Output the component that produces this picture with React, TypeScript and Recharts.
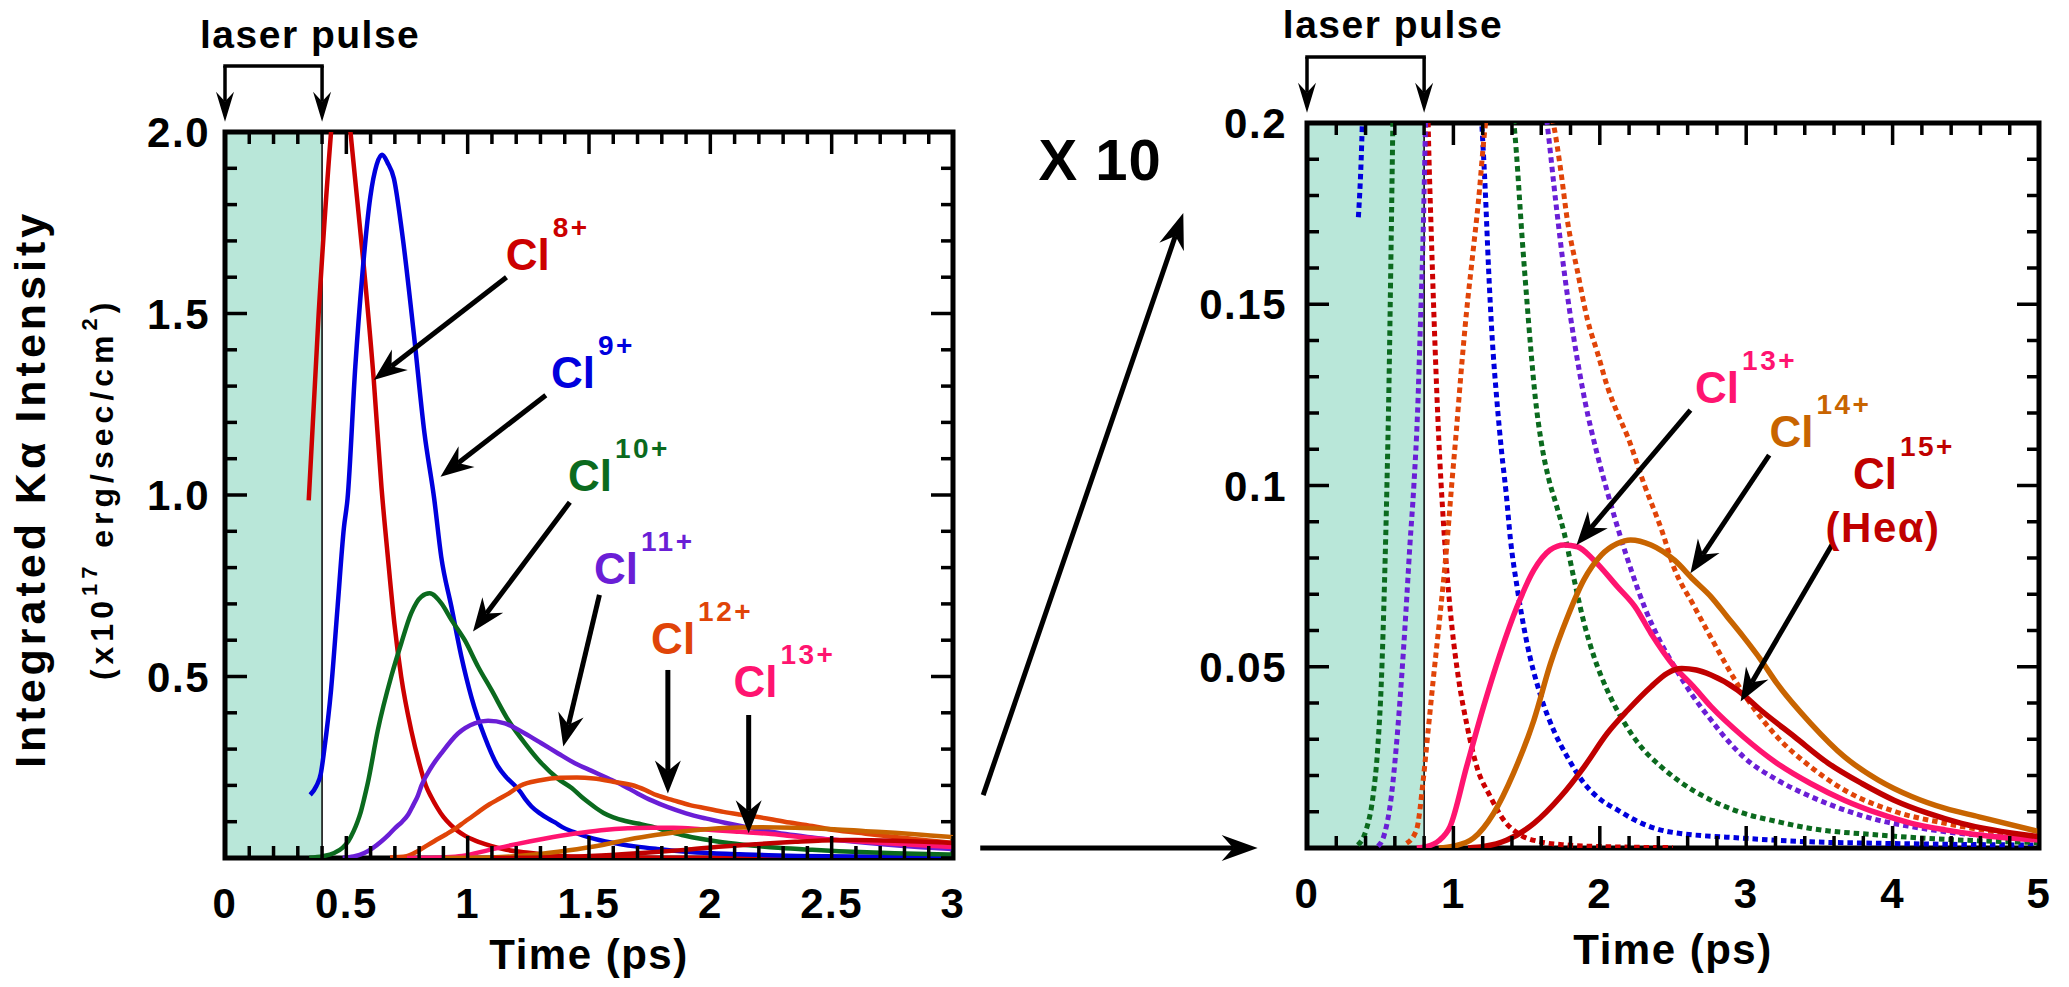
import React from "react";
import { Line, LineChart, ReferenceArea, ReferenceDot, ReferenceLine, XAxis, YAxis } from "recharts";

type Pt = [number, number];

// [time (ps), integrated K-alpha intensity (x1e17 erg/sec/cm^2)]
const cl8: Pt[] = [
  [0.345, 0.985], [0.386, 1.5], [0.437, 2.0], [0.477, 2.3], [0.517, 2.0], [0.572, 1.63], [0.613, 1.317],
  [0.645, 1.02], [0.671, 0.83], [0.698, 0.646], [0.726, 0.5], [0.767, 0.353], [0.8, 0.262], [0.828, 0.199],
  [0.85, 0.168], [0.875, 0.138], [0.9, 0.113], [0.93, 0.091], [0.96, 0.074], [0.99, 0.061], [1.034, 0.047],
  [1.092, 0.034], [1.16, 0.0224], [1.252, 0.0142], [1.344, 0.0077], [1.458, 0.0036], [1.596, 0.0017],
  [1.78, 0.0008], [2.0, 0.0004], [2.5, 0.0001],
];
const cl9: Pt[] = [
  [0.351, 0.174], [0.377, 0.199], [0.395, 0.233], [0.409, 0.298], [0.437, 0.463], [0.464, 0.692], [0.49, 0.91],
  [0.505, 0.99], [0.537, 1.354], [0.565, 1.6], [0.599, 1.822], [0.625, 1.91], [0.647, 1.937], [0.67, 1.915],
  [0.696, 1.872], [0.73, 1.721], [0.778, 1.445], [0.822, 1.17], [0.862, 0.99], [0.891, 0.83], [0.933, 0.692],
  [0.974, 0.555], [1.015, 0.444], [1.07, 0.334], [1.125, 0.252], [1.16, 0.222], [1.195, 0.199], [1.217, 0.182],
  [1.24, 0.16], [1.263, 0.142], [1.298, 0.123], [1.33, 0.109], [1.36, 0.098], [1.39, 0.085], [1.435, 0.072],
  [1.5, 0.057], [1.596, 0.042], [1.69, 0.032], [1.78, 0.025], [1.89, 0.018], [2.01, 0.0132], [2.12, 0.0105],
  [2.24, 0.0077], [2.47, 0.0045], [2.98, 0.0027], [3.44, 0.0017], [3.9, 0.0013], [5.0, 0.0008],
];
const cl10: Pt[] = [
  [0.347, 0.0008], [0.404, 0.005], [0.45, 0.014], [0.484, 0.028], [0.508, 0.046], [0.53, 0.074], [0.546, 0.1],
  [0.56, 0.128], [0.574, 0.165], [0.588, 0.205], [0.63, 0.353], [0.685, 0.5], [0.726, 0.591], [0.767, 0.674],
  [0.809, 0.72], [0.843, 0.729], [0.891, 0.702], [0.933, 0.656], [0.988, 0.6], [1.043, 0.527], [1.098, 0.463],
  [1.167, 0.38], [1.236, 0.316], [1.304, 0.261], [1.373, 0.218], [1.43, 0.192], [1.47, 0.168], [1.5, 0.152],
  [1.53, 0.137], [1.56, 0.124], [1.6, 0.112], [1.65, 0.102], [1.7, 0.095], [1.756, 0.087], [1.825, 0.074],
  [1.893, 0.062], [1.96, 0.0528], [2.05, 0.0436], [2.17, 0.0344], [2.28, 0.028], [2.42, 0.0224], [2.53, 0.0188],
  [2.76, 0.0132], [2.98, 0.0096], [3.21, 0.0073], [3.44, 0.0054], [3.9, 0.0036], [4.36, 0.0024], [5.0, 0.0015],
];
const cl11: Pt[] = [
  [0.485, 0.0005], [0.53, 0.004], [0.576, 0.0142], [0.61, 0.028], [0.645, 0.0463], [0.675, 0.0647],
  [0.702, 0.083], [0.73, 0.1], [0.755, 0.12], [0.775, 0.145], [0.795, 0.172], [0.81, 0.2], [0.85, 0.25],
  [0.891, 0.288], [0.96, 0.343], [1.029, 0.371], [1.084, 0.378], [1.153, 0.371], [1.236, 0.343], [1.304, 0.316],
  [1.373, 0.288], [1.442, 0.261], [1.511, 0.24], [1.58, 0.219], [1.64, 0.2], [1.7, 0.178], [1.76, 0.158],
  [1.825, 0.14], [1.9, 0.123], [1.98, 0.109], [2.06, 0.097], [2.14, 0.086], [2.22, 0.076], [2.31, 0.066],
  [2.4, 0.058], [2.51, 0.05], [2.64, 0.0417], [2.76, 0.0353], [2.87, 0.0298], [2.98, 0.0252], [3.21, 0.0188],
  [3.44, 0.0142], [3.67, 0.0105], [3.9, 0.0077], [4.13, 0.0059], [4.36, 0.0045], [5.0, 0.0027],
];
const cl12: Pt[] = [
  [0.68, 0.0013], [0.748, 0.005], [0.794, 0.0188], [0.828, 0.0326], [0.862, 0.0463], [0.91, 0.0647],
  [0.954, 0.083], [0.988, 0.1], [1.02, 0.115], [1.05, 0.13], [1.09, 0.148], [1.13, 0.163], [1.17, 0.178],
  [1.217, 0.199], [1.3, 0.214], [1.38, 0.221], [1.45, 0.222], [1.52, 0.219], [1.6, 0.21], [1.687, 0.199],
  [1.733, 0.187], [1.779, 0.173], [1.848, 0.159], [1.916, 0.1457], [1.985, 0.1365], [2.054, 0.127],
  [2.12, 0.12], [2.19, 0.1135], [2.306, 0.1], [2.42, 0.088], [2.51, 0.077], [2.64, 0.067], [2.76, 0.058],
  [2.98, 0.0427], [3.21, 0.0307], [3.44, 0.0224], [3.67, 0.016], [4.02, 0.01], [4.36, 0.0068], [5.0, 0.003],
];
const cl13: Pt[] = [
  [0.75, 0], [0.817, 0.0004], [0.9, 0.002], [0.977, 0.0059], [1.09, 0.0224], [1.206, 0.039], [1.32, 0.0537],
  [1.435, 0.0666], [1.55, 0.0767], [1.66, 0.0822], [1.756, 0.0836], [1.848, 0.0831], [1.96, 0.0794],
  [2.12, 0.0721], [2.24, 0.0666], [2.35, 0.0592], [2.51, 0.05], [2.64, 0.0445], [2.76, 0.039], [2.98, 0.0307],
  [3.21, 0.0234], [3.44, 0.0178], [3.67, 0.0132], [3.9, 0.0096], [4.13, 0.0068], [4.36, 0.005], [4.59, 0.0036],
  [5.0, 0.0022],
];
const cl14: Pt[] = [
  [0.9, 0], [1.0, 0.0005], [1.137, 0.0027], [1.275, 0.0096], [1.41, 0.0206], [1.55, 0.0353], [1.664, 0.051],
  [1.78, 0.0638], [1.89, 0.0739], [2.01, 0.0808], [2.12, 0.084], [2.21, 0.085], [2.35, 0.0836], [2.51, 0.0794],
  [2.64, 0.074], [2.76, 0.0693], [2.87, 0.0638], [2.98, 0.0583], [3.1, 0.0519], [3.21, 0.0454], [3.44, 0.0344],
  [3.67, 0.0252], [3.9, 0.0188], [4.13, 0.0142], [4.36, 0.0109], [4.59, 0.0086], [5.0, 0.0045],
];
const cl15: Pt[] = [
  [1.1, 0], [1.206, 0.0004], [1.366, 0.0022], [1.55, 0.0068], [1.733, 0.0142], [1.893, 0.0224], [2.05, 0.0316],
  [2.19, 0.038], [2.35, 0.0445], [2.46, 0.0482], [2.56, 0.0495], [2.66, 0.0491], [2.76, 0.0477], [2.94, 0.0436],
  [3.1, 0.038], [3.33, 0.0307], [3.56, 0.0234], [3.79, 0.0178], [4.01, 0.0132], [4.24, 0.0096], [4.47, 0.0068],
  [5.0, 0.0031],
];

const leftXMajor = [0, 0.5, 1, 1.5, 2, 2.5, 3];
const leftXLabels = ["0", "0.5", "1", "1.5", "2", "2.5", "3"];
const leftYMajor = [0.5, 1, 1.5, 2];
const leftYLabels = ["0.5", "1.0", "1.5", "2.0"];
const rightXMajor = [0, 1, 2, 3, 4, 5];
const rightXLabels = ["0", "1", "2", "3", "4", "5"];
const rightYMajor = [0.05, 0.1, 0.15, 0.2];
const rightYLabels = ["0.05", "0.1", "0.15", "0.2"];

const laserEndLeft = 0.4;
const laserEndRight = 0.8;

const series = [
  { id: "cl8", charge: "8+", color: "#cc0000", points: cl8, dottedRight: true },
  { id: "cl9", charge: "9+", color: "#0000dd", points: cl9, dottedRight: true },
  { id: "cl10", charge: "10+", color: "#0b6a1e", points: cl10, dottedRight: true },
  { id: "cl11", charge: "11+", color: "#6a1ed6", points: cl11, dottedRight: true },
  { id: "cl12", charge: "12+", color: "#e04408", points: cl12, dottedRight: true },
  { id: "cl13", charge: "13+", color: "#ff1470", points: cl13, dottedRight: false },
  { id: "cl14", charge: "14+", color: "#c86400", points: cl14, dottedRight: false },
  { id: "cl15", charge: "15+", color: "#c00000", points: cl15, dottedRight: false },
];
const colorOf = (id: string) => series.find((s) => s.id === id)!.color;
const chargeOf = (id: string) => series.find((s) => s.id === id)!.charge;
const rowsOf = (pts: Pt[]) => pts.map(([t, v]) => ({ t, v }));

// annotation placement (data coordinates of each panel)
const leftLabels = [
  { id: "cl8", t: 1.157, y: 1.62 },
  { id: "cl9", t: 1.343, y: 1.295 },
  { id: "cl10", t: 1.413, y: 1.011 },
  { id: "cl11", t: 1.521, y: 0.755 },
  { id: "cl12", t: 1.756, y: 0.562 },
  { id: "cl13", t: 2.095, y: 0.444 },
];
const leftArrows = [
  [{ x: 1.16, y: 1.6 }, { x: 0.613, y: 1.317 }],
  [{ x: 1.322, y: 1.275 }, { x: 0.888, y: 1.05 }],
  [{ x: 1.421, y: 0.98 }, { x: 1.022, y: 0.624 }],
  [{ x: 1.543, y: 0.725 }, { x: 1.394, y: 0.307 }],
  [{ x: 1.825, y: 0.518 }, { x: 1.825, y: 0.178 }],
  [{ x: 2.158, y: 0.394 }, { x: 2.158, y: 0.068 }],
];
const rightLabels = [
  { id: "cl13", t: 2.651, y: 0.1228 },
  { id: "cl14", t: 3.159, y: 0.1106 },
  { id: "cl15", t: 3.729, y: 0.099 },
];
const rightArrows = [
  [{ x: 2.619, y: 0.1208 }, { x: 1.841, y: 0.0836 }],
  [{ x: 3.157, y: 0.1084 }, { x: 2.619, y: 0.0758 }],
  [{ x: 3.585, y: 0.0836 }, { x: 2.962, y: 0.0404 }],
];

const FONT = '"Liberation Sans", Arial, Helvetica, sans-serif';
const tickText = { fontFamily: FONT, fontWeight: 700, fontSize: 42, letterSpacing: 1.5 };

function range(start: number, end: number, step: number) {
  const out: number[] = [];
  const n = Math.round((end - start) / step);
  for (let i = 0; i <= n; i++) out.push(Math.round((start + i * step) * 1e6) / 1e6);
  return out;
}

function majorIndex(v: number, majors: number[]) {
  return majors.findIndex((m) => Math.abs(m - v) < 1e-6);
}

function XTick(props: any) {
  const { x, y, payload, majors, labels, plotH } = props;
  const i = majorIndex(payload.value, majors);
  const len = i >= 0 ? 22 : 12;
  return (
    <g>
      <line x1={x} y1={y} x2={x} y2={y - len} stroke="#000" strokeWidth={3.5} />
      <line x1={x} y1={y - plotH} x2={x} y2={y - plotH + len} stroke="#000" strokeWidth={3.5} />
      {i >= 0 && (
        <text x={x} y={y + 60} textAnchor="middle" fill="#000" style={tickText}>
          {labels[i]}
        </text>
      )}
    </g>
  );
}

function YTick(props: any) {
  const { x, y, payload, majors, labels, plotW, gap } = props;
  const i = majorIndex(payload.value, majors);
  const len = i >= 0 ? 22 : 12;
  return (
    <g>
      <line x1={x} y1={y} x2={x + len} y2={y} stroke="#000" strokeWidth={3.5} />
      <line x1={x + plotW} y1={y} x2={x + plotW - len} y2={y} stroke="#000" strokeWidth={3.5} />
      {i >= 0 && (
        <text x={x - gap} y={y + 15} textAnchor="end" fill="#000" style={tickText}>
          {labels[i]}
        </text>
      )}
    </g>
  );
}

function Arrow(props: any) {
  const { x1, y1, x2, y2, head = 33, half = 13, width = 5 } = props;
  const dx = x2 - x1;
  const dy = y2 - y1;
  const len = Math.hypot(dx, dy) || 1;
  const ux = dx / len;
  const uy = dy / len;
  const bx = x2 - ux * head;
  const by = y2 - uy * head;
  const nx = x2 - ux * head * 0.68;
  const ny = y2 - uy * head * 0.68;
  const pts = `${x2},${y2} ${bx - uy * half},${by + ux * half} ${nx},${ny} ${bx + uy * half},${by - ux * half}`;
  return (
    <g>
      {head > 0 ? (
        <>
          <line x1={x1} y1={y1} x2={nx} y2={ny} stroke="#000" strokeWidth={width} />
          <polygon points={pts} fill="#000" />
        </>
      ) : (
        <line x1={x1} y1={y1} x2={x2} y2={y2} stroke="#000" strokeWidth={width} strokeLinecap="square" />
      )}
    </g>
  );
}

function Words(props: any) {
  const { cx, cy, text, sup, color = "#000", size = 44, supSize = 28, weight = 700, anchor = "start", spacing = 0 } = props;
  return (
    <text
      x={cx}
      y={cy}
      fill={color}
      textAnchor={anchor}
      style={{ fontFamily: FONT, fontWeight: weight, fontSize: size, letterSpacing: spacing }}
    >
      {text}
      {sup && (
        <tspan dx={3} dy={-33} style={{ fontSize: supSize, letterSpacing: 2.5 }}>
          {sup}
        </tspan>
      )}
    </text>
  );
}

function YTitle(props: any) {
  const { cx, cy } = props;
  return (
    <g transform={`rotate(-90, ${cx}, ${cy})`}>
      <text x={cx} y={cy} textAnchor="middle" fill="#000" style={{ fontFamily: FONT, fontWeight: 700, fontSize: 43, letterSpacing: 4 }}>
        Integrated Kα Intensity
      </text>
      <text x={cx} y={cy + 68} textAnchor="middle" fill="#000" style={{ fontFamily: FONT, fontWeight: 700, fontSize: 32, letterSpacing: 5 }}>
        (x10
        <tspan dy={-16} style={{ fontSize: 22 }}>17</tspan>
        <tspan dy={16}> erg/sec/cm</tspan>
        <tspan dy={-16} style={{ fontSize: 22 }}>2</tspan>
        <tspan dy={16}>)</tspan>
      </text>
    </g>
  );
}

function laserBracket(end: number, yBar: number, yTip: number, yText: number, tText: number) {
  return [
    <ReferenceLine key="lb-h" ifOverflow="visible" segment={[{ x: 0, y: yBar }, { x: end, y: yBar }]} shape={<Arrow head={0} width={3.5} />} />,
    <ReferenceLine key="lb-a" ifOverflow="visible" segment={[{ x: 0, y: yBar }, { x: 0, y: yTip }]} shape={<Arrow head={30} half={9} width={3.5} />} />,
    <ReferenceLine key="lb-b" ifOverflow="visible" segment={[{ x: end, y: yBar }, { x: end, y: yTip }]} shape={<Arrow head={30} half={9} width={3.5} />} />,
    <ReferenceDot key="lb-t" ifOverflow="visible" x={tText} y={yText} shape={<Words text="laser pulse" size={39} weight={700} spacing={1.5} />} />,
  ];
}

export default function App() {
  return (
    <div style={{ position: "absolute", left: 0, top: 0, width: 2069, height: 987, background: "#fff" }}>
      <div style={{ position: "absolute", left: 0, top: 0 }}>
        <LineChart width={975} height={987} margin={{ top: 132, right: 22, bottom: 29, left: 125 }}>
          <XAxis
            type="number"
            dataKey="t"
            domain={[0, 3]}
            allowDataOverflow
            ticks={range(0, 3, 0.1)}
            interval={0}
            tickLine={false}
            axisLine={false}
            tickSize={0}
            tickMargin={0}
            height={100}
            tick={<XTick majors={leftXMajor} labels={leftXLabels} plotH={726} />}
          />
          <YAxis
            type="number"
            domain={[0, 2]}
            allowDataOverflow
            ticks={range(0, 2, 0.1)}
            interval={0}
            tickLine={false}
            axisLine={false}
            tickSize={0}
            tickMargin={0}
            width={100}
            tick={<YTick majors={leftYMajor} labels={leftYLabels} plotW={728} gap={15} />}
          />
          <ReferenceArea x1={0} x2={laserEndLeft} y1={0} y2={2} fill="#b9e7d9" fillOpacity={1} stroke="none" />
          <ReferenceLine x={laserEndLeft} stroke="#000" strokeWidth={1.5} />
          {series.map((s) => (
            <Line
              key={s.id}
              data={rowsOf(s.points)}
              dataKey="v"
              type="monotone"
              stroke={s.color}
              strokeWidth={4.5}
              dot={false}
              activeDot={false}
              isAnimationActive={false}
            />
          ))}
          <ReferenceArea x1={0} x2={3} y1={0} y2={2} fill="none" stroke="#000" strokeWidth={5} ifOverflow="visible" />
          {leftArrows.map((seg, i) => (
            <ReferenceLine key={`la${i}`} ifOverflow="visible" segment={seg} shape={<Arrow />} />
          ))}
          {leftLabels.map((l) => (
            <ReferenceDot
              key={`ll${l.id}`}
              ifOverflow="visible"
              x={l.t}
              y={l.y}
              shape={<Words text="Cl" sup={chargeOf(l.id)} color={colorOf(l.id)} />}
            />
          ))}
          {laserBracket(laserEndLeft, 2.182, 2.028, 2.231, -0.103)}
          <ReferenceDot ifOverflow="visible" x={1.5} y={-0.306} shape={<Words text="Time (ps)" size={42} anchor="middle" spacing={1.5} />} />
          <ReferenceDot ifOverflow="visible" x={-0.74} y={1.017} shape={<YTitle />} />
        </LineChart>
      </div>
      <div style={{ position: "absolute", left: 975, top: 0 }}>
        <LineChart width={1094} height={987} margin={{ top: 123, right: 30, bottom: 39, left: 232 }}>
          <XAxis
            type="number"
            dataKey="t"
            domain={[0, 5]}
            allowDataOverflow
            ticks={range(0, 5, 0.2)}
            interval={0}
            tickLine={false}
            axisLine={false}
            tickSize={0}
            tickMargin={0}
            height={100}
            tick={<XTick majors={rightXMajor} labels={rightXLabels} plotH={725} />}
          />
          <YAxis
            type="number"
            domain={[0, 0.2]}
            allowDataOverflow
            ticks={range(0, 0.2, 0.01)}
            interval={0}
            tickLine={false}
            axisLine={false}
            tickSize={0}
            tickMargin={0}
            width={100}
            tick={<YTick majors={rightYMajor} labels={rightYLabels} plotW={732} gap={20} />}
          />
          <ReferenceArea x1={0} x2={laserEndRight} y1={0} y2={0.2} fill="#b9e7d9" fillOpacity={1} stroke="none" />
          <ReferenceLine x={laserEndRight} stroke="#000" strokeWidth={1.5} />
          {series
            .filter((s) => s.dottedRight)
            .map((s) => (
              <Line
                key={s.id}
                data={rowsOf(s.points)}
                dataKey="v"
                type="monotone"
                stroke={s.color}
                strokeWidth={5}
                strokeDasharray="5.5 4"
                dot={false}
                activeDot={false}
                isAnimationActive={false}
              />
            ))}
          {series
            .filter((s) => !s.dottedRight)
            .map((s) => (
              <Line
                key={s.id}
                data={rowsOf(s.points)}
                dataKey="v"
                type="monotone"
                stroke={s.color}
                strokeWidth={5.5}
                dot={false}
                activeDot={false}
                isAnimationActive={false}
              />
            ))}
          <ReferenceArea x1={0} x2={5} y1={0} y2={0.2} fill="none" stroke="#000" strokeWidth={5} ifOverflow="visible" />
          {rightArrows.map((seg, i) => (
            <ReferenceLine key={`ra${i}`} ifOverflow="visible" segment={seg} shape={<Arrow />} />
          ))}
          {rightLabels.map((l) => (
            <ReferenceDot
              key={`rl${l.id}`}
              ifOverflow="visible"
              x={l.t}
              y={l.y}
              shape={<Words text="Cl" sup={chargeOf(l.id)} color={colorOf(l.id)} />}
            />
          ))}
          <ReferenceDot ifOverflow="visible" x={3.935} y={0.0844} shape={<Words text="(Heα)" size={42} anchor="middle" color={colorOf("cl15")} spacing={1.5} />} />
          {laserBracket(laserEndRight, 0.2182, 0.2028, 0.2234, -0.165)}
          <ReferenceDot ifOverflow="visible" x={2.5} y={-0.032} shape={<Words text="Time (ps)" size={42} anchor="middle" spacing={1.5} />} />
          {/* magnification cue between the panels */}
          <ReferenceLine ifOverflow="visible" segment={[{ x: -2.212, y: 0.0146 }, { x: -0.845, y: 0.1752 }]} shape={<Arrow head={36} half={13} />} />
          <ReferenceLine ifOverflow="visible" segment={[{ x: -2.232, y: 0 }, { x: -0.337, y: 0 }]} shape={<Arrow head={36} half={13} />} />
          <ReferenceDot ifOverflow="visible" x={-1.834} y={0.1843} shape={<Words text="X 10" size={58} spacing={1} />} />
        </LineChart>
      </div>
    </div>
  );
}
